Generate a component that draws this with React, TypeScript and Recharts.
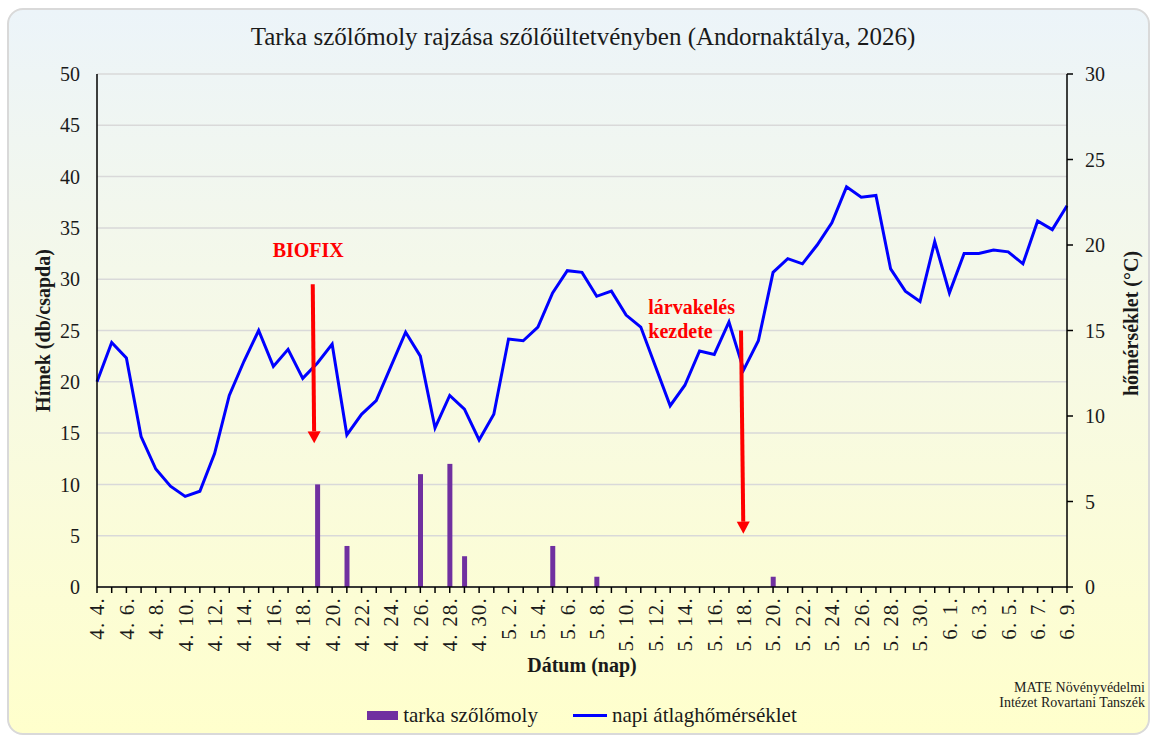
import {
    Bar,
    CartesianGrid,
    ComposedChart,
    Label,
    Legend,
    Line,
    ReferenceDot,
    ReferenceLine,
    XAxis,
    YAxis
} from "recharts";

// napok (4.4. - 6.9.)
const days = [
    "4. 4.", "4. 5.", "4. 6.", "4. 7.", "4. 8.", "4. 9.", "4. 10.", "4. 11.", "4. 12.", "4. 13.",
    "4. 14.", "4. 15.", "4. 16.", "4. 17.", "4. 18.", "4. 19.", "4. 20.", "4. 21.", "4. 22.", "4. 23.",
    "4. 24.", "4. 25.", "4. 26.", "4. 27.", "4. 28.", "4. 29.", "4. 30.",
    "5. 1.", "5. 2.", "5. 3.", "5. 4.", "5. 5.", "5. 6.", "5. 7.", "5. 8.", "5. 9.", "5. 10.",
    "5. 11.", "5. 12.", "5. 13.", "5. 14.", "5. 15.", "5. 16.", "5. 17.", "5. 18.", "5. 19.", "5. 20.",
    "5. 21.", "5. 22.", "5. 23.", "5. 24.", "5. 25.", "5. 26.", "5. 27.", "5. 28.", "5. 29.", "5. 30.", "5. 31.",
    "6. 1.", "6. 2.", "6. 3.", "6. 4.", "6. 5.", "6. 6.", "6. 7.", "6. 8.", "6. 9."
];

// hímek száma csapdánként
const moths = [
    0, 0, 0, 0, 0, 0, 0, 0, 0, 0,
    0, 0, 0, 0, 0, 10, 0, 4, 0, 0,
    0, 0, 11, 0, 12, 3, 0,
    0, 0, 0, 0, 4, 0, 0, 1, 0, 0,
    0, 0, 0, 0, 0, 0, 0, 0, 0, 1,
    0, 0, 0, 0, 0, 0, 0, 0, 0, 0, 0,
    0, 0, 0, 0, 0, 0, 0, 0, 0
];

// napi átlaghőmérséklet (°C)
const temps = [
    12.0, 14.3, 13.4, 8.8, 6.9, 5.9, 5.3, 5.6, 7.8, 11.2,
    13.2, 15.0, 12.9, 13.9, 12.2, 13.1, 14.2, 8.9, 10.1, 10.9,
    12.9, 14.9, 13.5, 9.3, 11.2, 10.4, 8.6,
    10.1, 14.5, 14.4, 15.2, 17.2, 18.5, 18.4, 17.0, 17.3, 15.9,
    15.2, 12.9, 10.6, 11.8, 13.8, 13.6, 15.5, 12.7, 14.4, 18.4,
    19.2, 18.9, 20.0, 21.3, 23.4, 22.8, 22.9, 18.6, 17.3, 16.7, 20.2,
    17.2, 19.5, 19.5, 19.7, 19.6, 18.9, 21.4, 20.9, 22.3
];

const leftTicks = [0, 5, 10, 15, 20, 25, 30, 35, 40, 45, 50];
const rightTicks = [0, 5, 10, 15, 20, 25, 30];

const data = days.map((day, i) => ({i, day, moth: moths[i], temp: temps[i]}));
const dayTicks = days.map((_, i) => i);

const FONT = "'Liberation Serif', 'Times New Roman', serif";
const TEXT = "#1a1a1a";
const RED = "#ff0000";

const DayTick = (props: any) => {
    const {x, y, payload} = props;
    if (payload.value % 2 !== 0) return null;
    return <text transform={`translate(${x},${y}) rotate(-90)`} textAnchor="end" dy="0.35em"
                 fontFamily={FONT} fontSize={21} letterSpacing={1.2} fill={TEXT}>
        {days[payload.value]}
    </text>
}

const Arrow = (props: any) => {
    const {x1, y1, x2, y2} = props;
    const len = Math.hypot(x2 - x1, y2 - y1);
    const ux = (x2 - x1) / len, uy = (y2 - y1) / len;
    const bx = x2 - ux * 12, by = y2 - uy * 12;
    return <g>
        <line x1={x1} y1={y1} x2={bx} y2={by} stroke={RED} strokeWidth={4}/>
        <polygon points={`${x2},${y2} ${bx - uy * 6.5},${by + ux * 6.5} ${bx + uy * 6.5},${by - ux * 6.5}`} fill={RED}/>
    </g>
}

const LegendContent = (props: any) => {
    // oszlop elöl, vonal utána
    const items = [...(props.payload || [])].sort((a: any, b: any) =>
        (a.type === 'line' ? 1 : 0) - (b.type === 'line' ? 1 : 0));
    return <div style={{display: 'flex', justifyContent: 'center', alignItems: 'center', height: 30,
        fontFamily: FONT, fontSize: 21, color: TEXT, gap: 35}}>
        {items.map((entry: any) => (
            <span key={entry.value} style={{display: 'flex', alignItems: 'center'}}>
                {entry.type === 'line'
                    ? <span style={{width: 34, height: 3, background: entry.color, marginRight: 5}}/>
                    : <span style={{width: 31, height: 9, background: entry.color, marginRight: 5}}/>}
                {entry.value}
            </span>
        ))}
    </div>
}

export default function App() {
    return <div style={{position: 'relative', width: 1154, height: 738, overflow: 'hidden'}}>
        <style>{'body{margin:0}'}</style>
        <div style={{
            position: 'absolute', left: 7, top: 8, width: 1143, height: 727, boxSizing: 'border-box',
            border: '2px solid #d9d9d9', borderRadius: 16,
            background: 'linear-gradient(to bottom, #ecf4f9 0%, #f6f9e6 45%, #ffffcc 100%)'
        }}/>
        <div style={{
            position: 'absolute', left: 97, width: 972, top: 24, textAlign: 'center',
            fontFamily: FONT, fontSize: 25, lineHeight: '25px', color: TEXT
        }}>
            Tarka szőlőmoly rajzása szőlőültetvényben (Andornaktálya, 2026)
        </div>
        <div style={{
            position: 'absolute', right: 9, top: 680, textAlign: 'right',
            fontFamily: FONT, fontSize: 14, lineHeight: '15px', color: TEXT
        }}>
            MATE Növényvédelmi<br/>Intézet Rovartani Tanszék
        </div>
        <div style={{position: 'absolute', left: 0, top: 0}}>
            <ComposedChart width={1154} height={738} data={data}
                           margin={{top: 74, right: 27, bottom: 8, left: 37}}>
                <CartesianGrid yAxisId="left" vertical={false} stroke="#d9d9d9" strokeWidth={1.5}/>
                <XAxis type="number" dataKey="i" domain={[0, 66]} ticks={dayTicks} interval={0}
                       height={113} tick={<DayTick/>} tickSize={6} tickMargin={4}
                       stroke="#000" strokeWidth={1.5}>
                    <Label content={(p: any) => {
                        const vb = p.viewBox || {x: 97, y: 587, width: 970};
                        return <text x={vb.x + vb.width / 2} y={vb.y + 85} textAnchor="middle"
                                     fontFamily={FONT} fontSize={20} fontWeight="bold" fill={TEXT}>Dátum (nap)</text>
                    }}/>
                </XAxis>
                <YAxis yAxisId="left" domain={[0, 50]} ticks={leftTicks} width={60} tickLine={false}
                       tickSize={0} tickMargin={17} stroke="#000" strokeWidth={1.5}
                       tick={{fontFamily: FONT, fontSize: 20, fill: TEXT}}>
                    <Label content={(p: any) => {
                        const vb = p.viewBox || {x: 37, y: 74, height: 513};
                        return <text transform={`translate(${vb.x + 6},${vb.y + vb.height / 2}) rotate(-90)`}
                                     textAnchor="middle" dy="0.35em" fontFamily={FONT} fontSize={20}
                                     fontWeight="bold" fill={TEXT}>Hímek (db/csapda)</text>
                    }}/>
                </YAxis>
                <YAxis yAxisId="right" orientation="right" domain={[0, 30]} ticks={rightTicks} width={60}
                       tickSize={6} tickMargin={12} stroke="#000" strokeWidth={1.5}
                       tick={{fontFamily: FONT, fontSize: 20, fill: TEXT}}>
                    <Label content={(p: any) => {
                        const vb = p.viewBox || {x: 1067, y: 74, height: 513};
                        return <text transform={`translate(${vb.x + 64},${vb.y + vb.height / 2 - 7}) rotate(-90)`}
                                     textAnchor="middle" dy="0.35em" fontFamily={FONT} fontSize={20}
                                     fontWeight="bold" fill={TEXT}>hőmérséklet (°C)</text>
                    }}/>
                </YAxis>
                <Legend verticalAlign="bottom" height={30} content={<LegendContent/>}/>
                <Bar yAxisId="left" dataKey="moth" name="tarka szőlőmoly" fill="#7030a0" barSize={5}
                     isAnimationActive={false}/>
                <Line yAxisId="right" dataKey="temp" name="napi átlaghőmérséklet" type="linear"
                      stroke="#0000ff" strokeWidth={3} dot={false} activeDot={false} isAnimationActive={false}/>
                <ReferenceLine yAxisId="left" ifOverflow="visible" shape={<Arrow/>}
                               segment={[{x: 14.68, y: 29.5}, {x: 14.78, y: 14.0}]}/>
                <ReferenceLine yAxisId="left" ifOverflow="visible" shape={<Arrow/>}
                               segment={[{x: 43.82, y: 25.0}, {x: 43.98, y: 5.2}]}/>
                <ReferenceDot yAxisId="left" x={14.37} y={32.15} ifOverflow="visible"
                              shape={(p: any) => <text x={p.cx} y={p.cy} textAnchor="middle" fontFamily={FONT}
                                                       fontSize={20} fontWeight="bold" fill={RED}>BIOFIX</text>}/>
                <ReferenceDot yAxisId="left" x={37.51} y={26.6} ifOverflow="visible"
                              shape={(p: any) => <text x={p.cx} y={p.cy} fontFamily={FONT} fontSize={20}
                                                       fontWeight="bold" fill={RED}>
                                  <tspan x={p.cx}>lárvakelés</tspan>
                                  <tspan x={p.cx} dy={24}>kezdete</tspan>
                              </text>}/>
            </ComposedChart>
        </div>
    </div>
}
